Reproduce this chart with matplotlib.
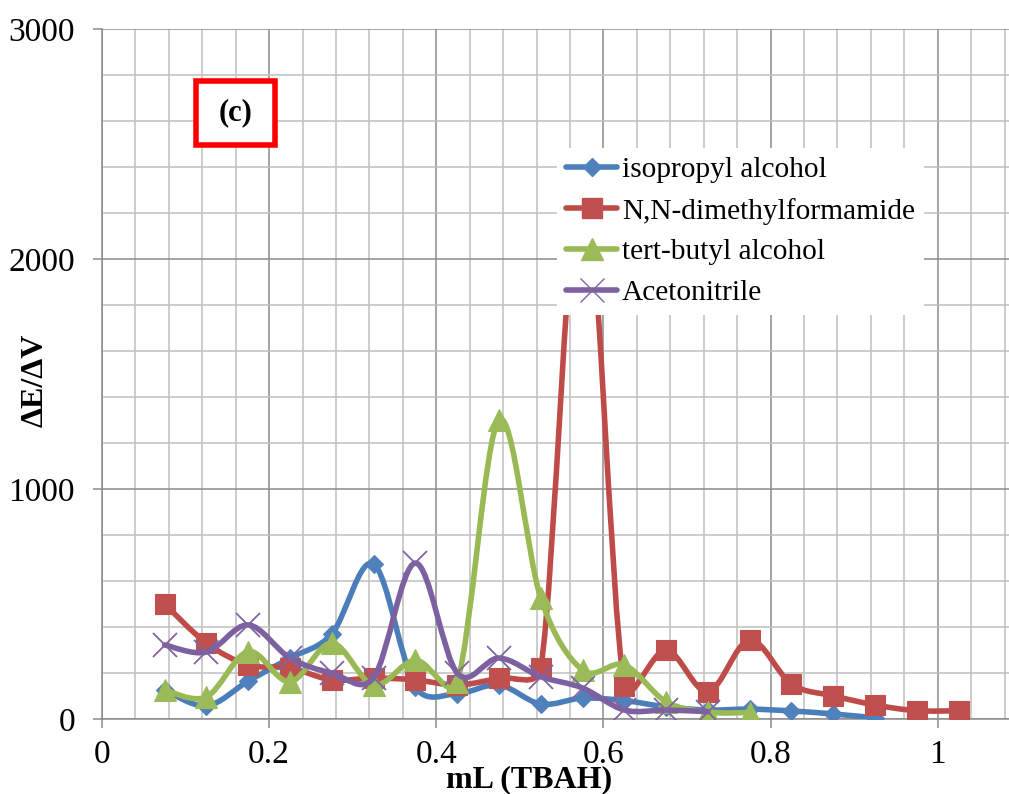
import numpy as np
import matplotlib
matplotlib.use("Agg")
import matplotlib.pyplot as plt
from matplotlib.path import Path
from matplotlib.patches import PathPatch, Rectangle
from matplotlib.lines import Line2D
from matplotlib.ticker import MultipleLocator, FixedLocator, FuncFormatter

plt.rcParams['font.family'] = ['Liberation Serif', 'DejaVu Serif']

# ---------------- data ----------------
x_ipa = [0.075, 0.125, 0.175, 0.225, 0.275, 0.325, 0.375, 0.425, 0.475, 0.525,
         0.575, 0.625, 0.675, 0.725, 0.775, 0.825, 0.875, 0.925]
y_ipa = [126, 57, 165, 265, 370, 674, 140, 110, 148, 65,
         91, 80, 53, 39, 43, 35, 22, 5]

x_dmf = [0.075, 0.125, 0.175, 0.225, 0.275, 0.325, 0.375, 0.425, 0.475, 0.525,
         0.575, 0.625, 0.675, 0.725, 0.775, 0.825, 0.875, 0.925, 0.975, 1.025]
y_dmf = [500, 330, 235, 222, 170, 178, 170, 148, 178, 222,
         2400, 145, 300, 119, 343, 152, 101, 61, 36, 36]

x_tba = [0.075, 0.125, 0.175, 0.225, 0.275, 0.325, 0.375, 0.425, 0.475, 0.525,
         0.575, 0.625, 0.675, 0.725, 0.775]
y_tba = [126, 96, 293, 162, 330, 148, 256, 162, 1300, 526,
         213, 235, 75, 30, 28]

x_acn = [0.075, 0.125, 0.175, 0.225, 0.275, 0.325, 0.375, 0.425, 0.475, 0.525,
         0.575, 0.625, 0.675, 0.725]
y_acn = [322, 291, 409, 265, 200, 180, 678, 200, 265, 184,
         135, 39, 39, 32]

series_names = ["isopropyl alcohol", "N,N-dimethylformamide",
                "tert-butyl alcohol", "Acetonitrile"]
x_tick_values = [0, 0.2, 0.4, 0.6, 0.8, 1.0]
y_tick_values = [0, 1000, 2000, 3000]

# ---------------- styles ----------------
line_colors = ["#4A7EBB", "#BE4B48", "#98B954", "#7D60A0"]
mark_colors = ["#4F81BD", "#C0504D", "#9BBB59", "#8064A2"]
markers = ["D", "s", "^", "x"]
msizes = [9.6, 15.0, 15.5, 17]
LW = 4.0

W, H = 1009, 794
fig = plt.figure(figsize=(W / 100, H / 100), dpi=100)
ax_left, ax_bottom = 102 / W, 75 / H
ax_w, ax_h = 1002.8 / W, 690 / H
ax = fig.add_axes([ax_left, ax_bottom, ax_w, ax_h])
ax.set_xlim(0, 1.2)
ax.set_ylim(0, 3000)


def smooth_path(xs, ys):
    """Excel-like smoothed line: cubic Bezier with 1/6 tangents,
    arms limited to half of the segment length (in display space)."""
    P = ax.transData.transform(np.column_stack([xs, ys]).astype(float))
    n = len(P)
    verts = [P[0]]
    codes = [Path.MOVETO]
    for i in range(n - 1):
        p_prev = P[i - 1] if i > 0 else P[i]
        p_next = P[i + 2] if i + 2 < n else P[i + 1]
        seg = np.hypot(*(P[i + 1] - P[i]))
        a1 = (P[i + 1] - p_prev) / 6.0
        a2 = (p_next - P[i]) / 6.0
        l1, l2 = np.hypot(*a1), np.hypot(*a2)
        if l1 > seg / 2 and l1 > 0:
            a1 = a1 * (seg / 2) / l1
        if l2 > seg / 2 and l2 > 0:
            a2 = a2 * (seg / 2) / l2
        verts += [P[i] + a1, P[i + 1] - a2, P[i + 1]]
        codes += [Path.CURVE4] * 3
    verts = ax.transData.inverted().transform(np.array(verts))
    return Path(verts, codes)


# grid
ax.set_axisbelow(True)
ax.xaxis.set_major_locator(FixedLocator(x_tick_values + [1.2]))
ax.xaxis.set_minor_locator(MultipleLocator(0.04))
ax.yaxis.set_major_locator(FixedLocator(y_tick_values))
ax.yaxis.set_minor_locator(MultipleLocator(200))
ax.grid(which='minor', color='#BFBFBF', lw=1.1)
ax.grid(which='major', color='#8C8C8C', lw=1.1)

ax.xaxis.set_major_formatter(FuncFormatter(lambda v, p: f"{v:g}" if v <= 1.0 else ""))
ax.yaxis.set_major_formatter(FuncFormatter(lambda v, p: f"{v:g}"))
ax.tick_params(which='major', direction='out', length=6.5, width=1.1,
               color='#8C8C8C', labelsize=24)
ax.tick_params(axis='y', which='major', pad=13)
ax.tick_params(axis='x', which='major', pad=8)
ax.tick_params(which='minor', length=0)

for s in ['top', 'right']:
    ax.spines[s].set_visible(False)
for s in ['left', 'bottom']:
    ax.spines[s].set_color('#8C8C8C')
    ax.spines[s].set_linewidth(1.1)

all_series = [(x_ipa, y_ipa), (x_dmf, y_dmf), (x_tba, y_tba), (x_acn, y_acn)]
handles = []
for k, (xs, ys) in enumerate(all_series):
    z = 3 + k
    patch = PathPatch(smooth_path(xs, ys), facecolor='none',
                      edgecolor=line_colors[k], lw=LW,
                      capstyle='round', joinstyle='round', zorder=z)
    ax.add_patch(patch)
    if markers[k] == 'x':
        ax.plot(xs, ys, linestyle='none', marker='x', ms=msizes[k],
                mec=mark_colors[k], mew=1.3, zorder=z + 0.5)
        h = Line2D([], [], color=line_colors[k], lw=LW, marker='x',
                   ms=msizes[k], mec=mark_colors[k], mew=1.0,
                   solid_capstyle='round')
    else:
        ax.plot(xs, ys, linestyle='none', marker=markers[k], ms=msizes[k],
                mfc=mark_colors[k], mec=mark_colors[k], mew=0.8, zorder=z + 0.5)
        h = Line2D([], [], color=line_colors[k], lw=LW, marker=markers[k],
                   ms=msizes[k], mfc=mark_colors[k], mec=mark_colors[k],
                   solid_capstyle='round')
    handles.append(h)

leg = ax.legend(handles, series_names, loc='upper left',
                bbox_to_anchor=(557 / W, 1 - 148 / H),
                bbox_transform=fig.transFigure, borderaxespad=0,
                borderpad=0.3, frameon=True, fancybox=False,
                framealpha=1, facecolor='white', edgecolor='none',
                prop={'family': 'Liberation Serif', 'size': 21.2},
                handlelength=1.75, handletextpad=0.15, labelspacing=0.48,
                numpoints=1)
leg.set_zorder(20)

# axis labels
ax.set_xlabel("mL (TBAH)", fontsize=23, fontweight='bold', va='center')
ax.xaxis.set_label_coords((529 - 102) / 1002.8, (719 - 780) / 690)
ax.set_ylabel("ΔE/ΔV", fontsize=23, fontweight='bold', va='center')
ax.yaxis.set_label_coords((35 - 102) / 1002.8, (719 - 380) / 690)

# panel tag
x0, x1 = (196 - 102) / 1002.8, (275 - 102) / 1002.8
y0, y1 = (719 - 145) / 690, (719 - 81) / 690
ax.add_patch(Rectangle((x0, y0), x1 - x0, y1 - y0, transform=ax.transAxes,
                       facecolor='white', edgecolor='#FF0000', lw=4,
                       zorder=15, clip_on=False))
ax.text((x0 + x1) / 2, (y0 + y1) / 2, "(c)", transform=ax.transAxes,
        ha='center', va='center', fontsize=22, fontweight='bold', zorder=16)

fig.savefig("out.png", dpi=100)
